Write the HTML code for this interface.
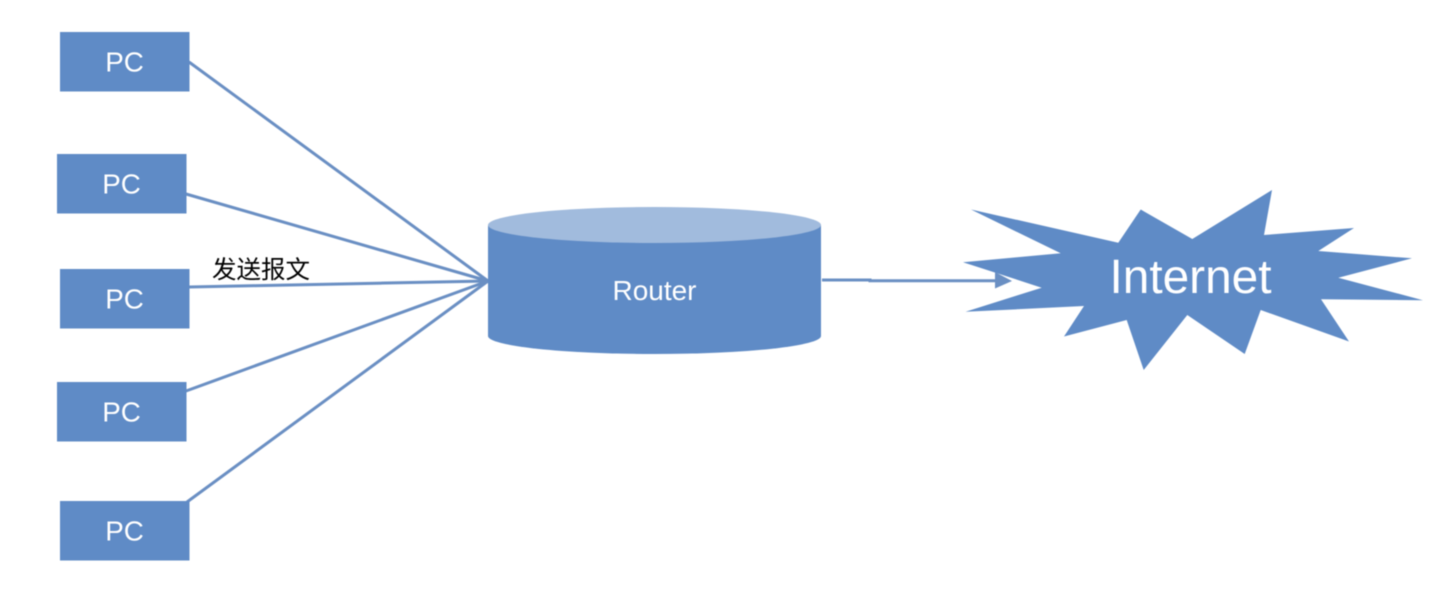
<!DOCTYPE html>
<html lang="zh">
<head>
<meta charset="utf-8">
<style>
html,body{margin:0;padding:0;background:#fff;width:1436px;height:594px;overflow:hidden}
svg{display:block;filter:blur(.4px)}
text{font-family:"Liberation Sans","Noto Sans CJK SC",sans-serif;text-anchor:middle}
</style>
</head>
<body>
<svg width="1436" height="594" viewBox="0 0 1436 594" xmlns="http://www.w3.org/2000/svg">
<g stroke="#6a8fc3" stroke-width="3" fill="none">
<line x1="189" y1="62" x2="488" y2="281"/>
<line x1="186" y1="194" x2="488" y2="281"/>
<line x1="189" y1="287" x2="488" y2="281"/>
<line x1="186" y1="391" x2="488" y2="281"/>
<line x1="187" y1="502" x2="488" y2="281"/>
</g>
<g fill="#5f8bc6">
<rect x="60" y="32" width="129.500" height="59.500"/>
<rect x="57" y="154" width="129.500" height="59.500"/>
<rect x="60" y="269" width="129.500" height="59.500"/>
<rect x="57" y="382" width="129.500" height="59.500"/>
<rect x="60" y="501" width="129.500" height="59.500"/>
</g>
<g fill="#fff" font-size="27.800">
<text x="124.500" y="71.300">PC</text>
<text x="121.500" y="193.300">PC</text>
<text x="124.500" y="308.300">PC</text>
<text x="121.500" y="421.300">PC</text>
<text x="124.500" y="540.300">PC</text>
</g>
<text x="261" y="278" font-size="24.500" fill="#000">发送报文</text>
<path d="M488 225 V336 A166.500 18 0 0 0 821 336 V225 Z" fill="#5f8bc6"/>
<ellipse cx="654.500" cy="225" rx="166.500" ry="18" fill="#a1bbdd"/>
<text x="654.500" y="300" font-size="28" fill="#fff">Router</text>
<polygon fill="#5f8bc6" points="971,209.500 1118.300,242.700 1140.700,209.500 1192.300,239 1272,190 1264,235 1354,228 1318.300,251 1412,258.300 1338.300,277.700 1423,300.200 1321,299.300 1349,341.500 1260.700,310 1244.700,354 1187.300,315 1143.700,370 1126.700,320 1064,336.500 1084,306 965.500,311.800 1041.700,287.700 963,262.200 1060.700,253.300"/>
<text x="1190.500" y="293" font-size="47.800" fill="#fff">Internet</text>
<path d="M822 280 H870 V280.800 H996" fill="none" stroke="#6a8fc3" stroke-width="3"/>
<polygon points="995,272 1012,281 995,288.500" fill="#6a8fc3"/>
</svg>
</body>
</html>
